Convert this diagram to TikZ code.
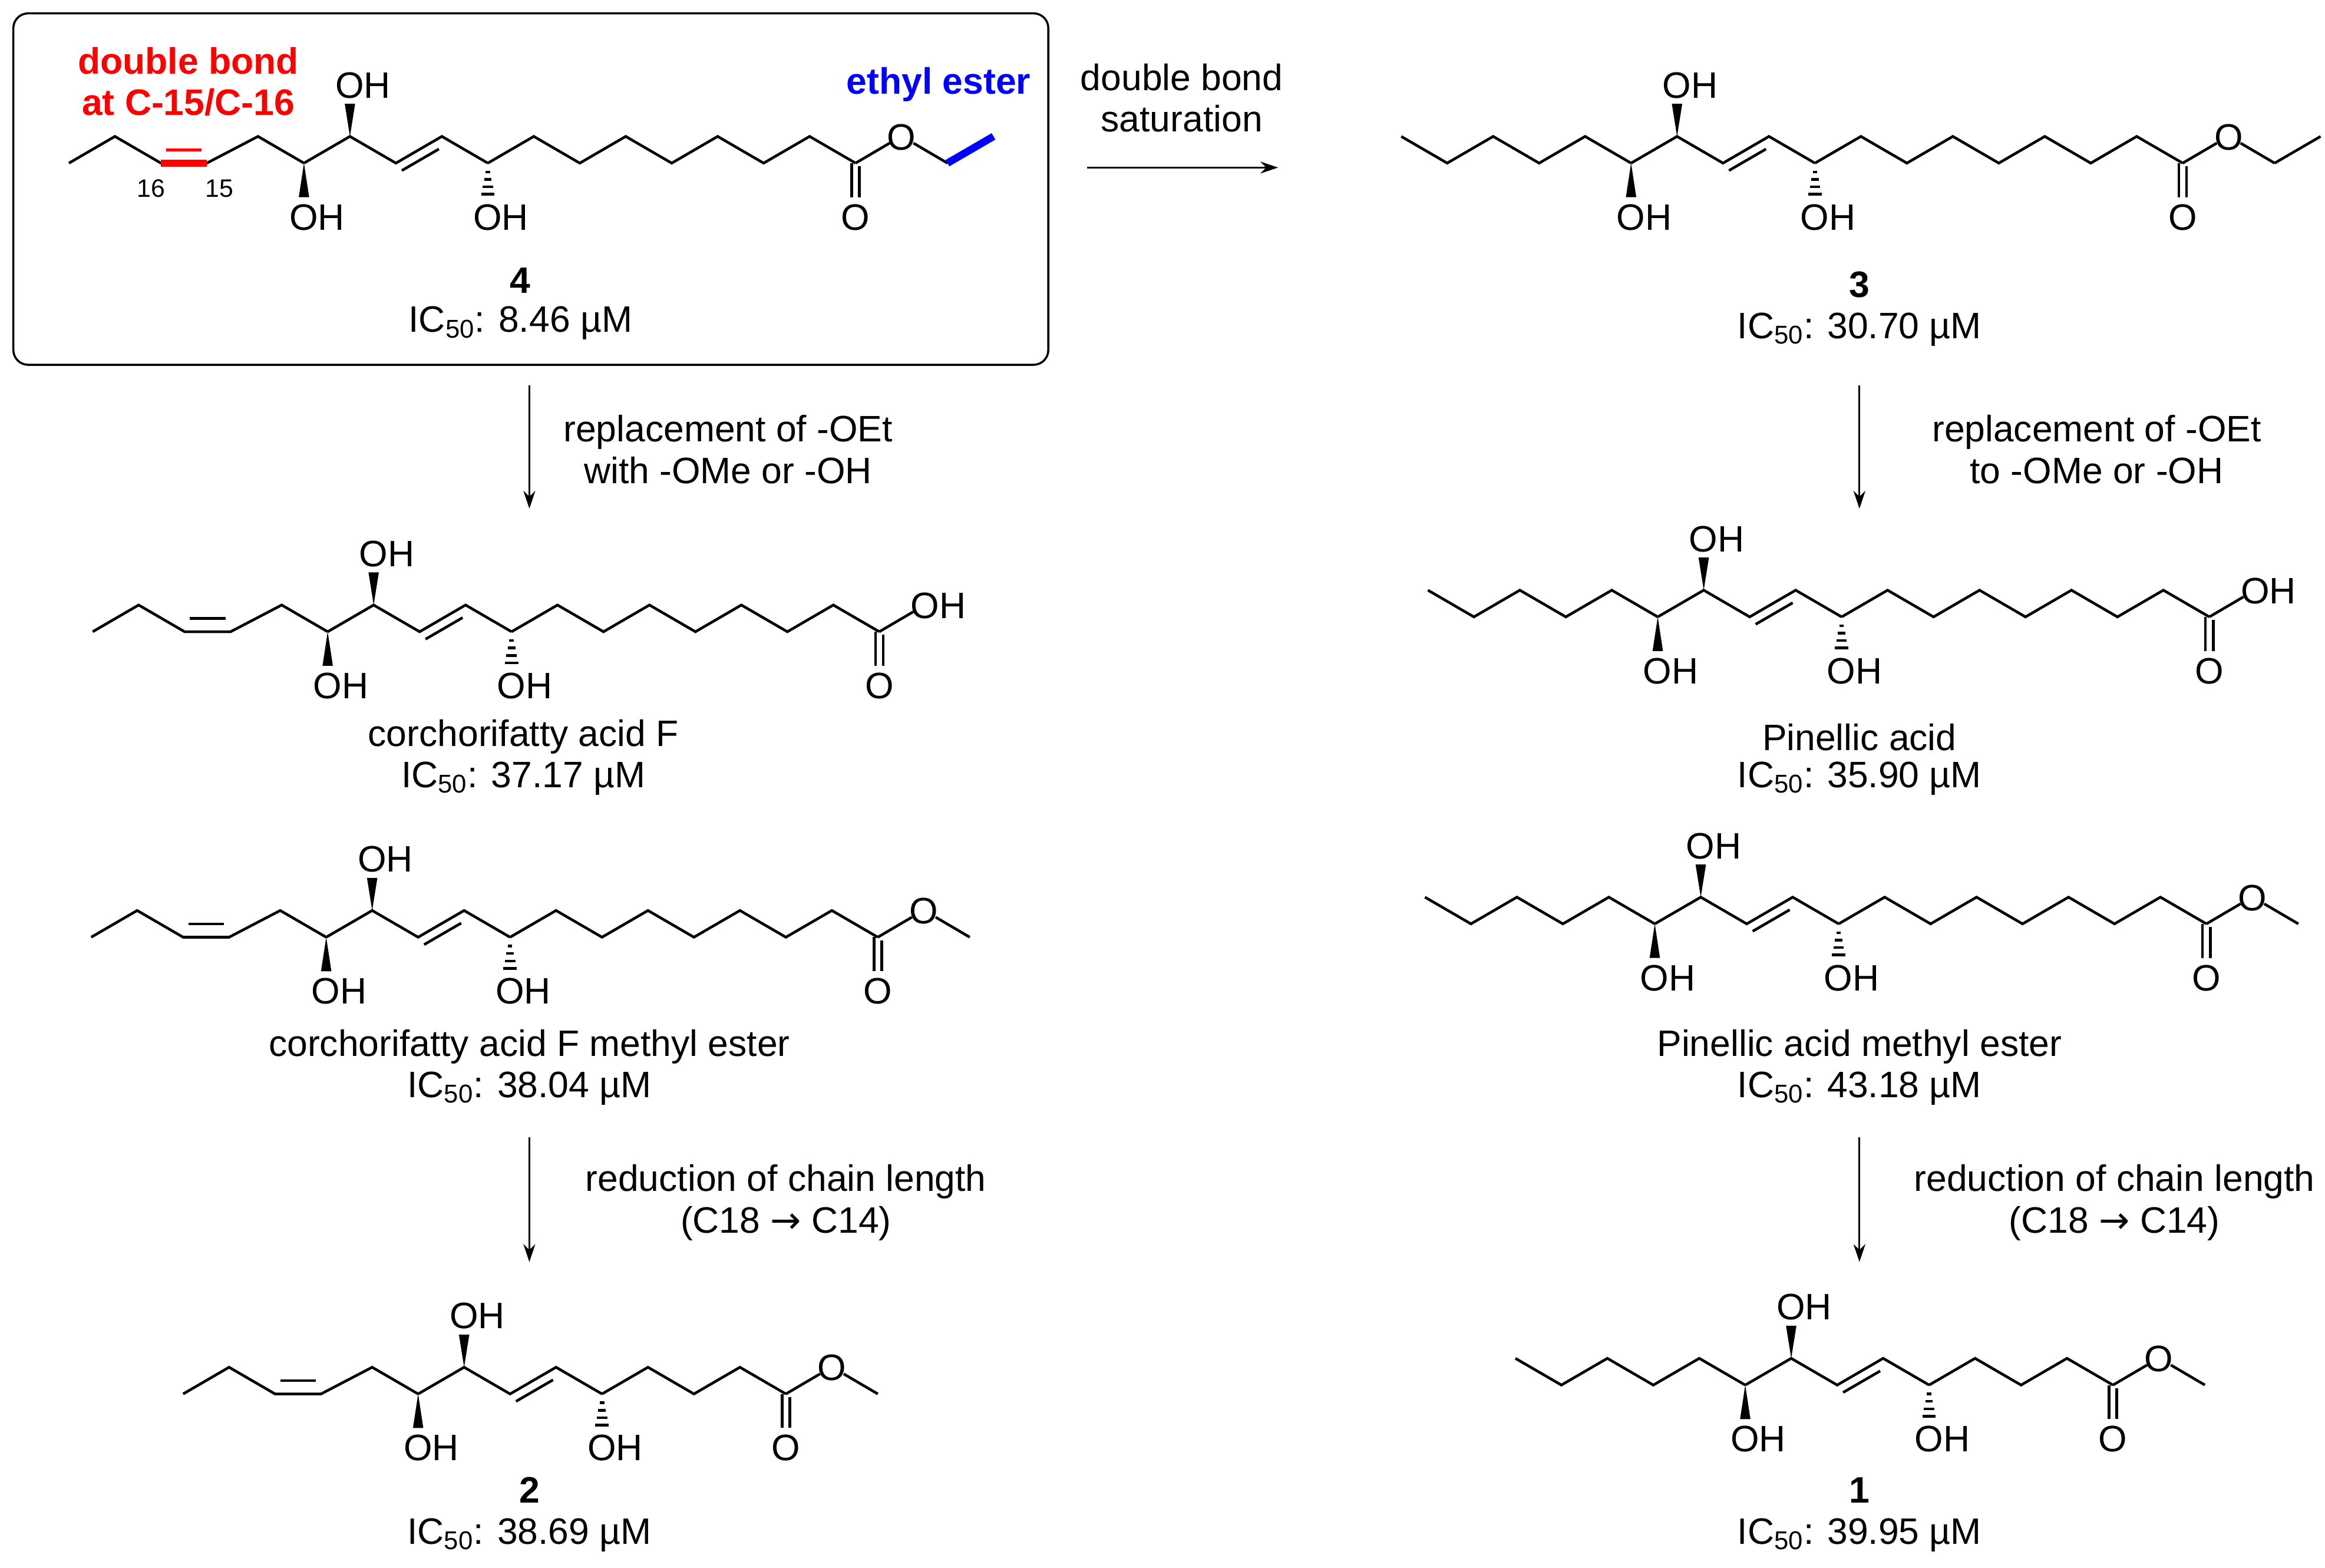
\documentclass[tikz,border=0pt]{standalone}
\usepackage{fontspec}
\usetikzlibrary{arrows.meta}
\setmainfont{Liberation Sans}
\newfontfamily\dvs{DejaVu Sans}
\tikzset{
  bond/.style={line width=1.8pt,line cap=butt,line join=miter},
  txt/.style={inner sep=0pt,font=\fontsize{24.8}{28}\selectfont,align=center},
  atom/.style={inner sep=0pt,font=\fontsize{24.8}{28}\selectfont},
  arr/.style={line width=1.3pt,-{Stealth[length=12pt,width=8pt]}},
}
\newcommand\ICv[1]{IC\textsubscript{50}: #1 µM}
\newcommand\Mol[5]{%
\begin{scope}[shift={(#1,#2)}]
 \ifnum#3=1
   \draw[bond] (50,92)--(81,110)--(112,92)--(143,110)--(174,92)--(205,110);
 \else
   \draw[bond] (46.5,110)--(77.5,92)--(108.5,110)--(139.5,110)--(174,92)--(205,110);
   \draw[bond] (112,101)--(136,101);
 \fi
 \draw[bond] (205,110)--(236,92)--(267,110)--(298,92)--(329,110);
 \draw[bond] (271,115)--(296,100.5);
 \fill (236,92)--(239.5,70)--(232.5,70)--cycle;
 \fill (205,110)--(208.5,133)--(201.5,133)--cycle;
 \foreach \yy/\ww in {116/1.5,121/2.5,126/3.5,131/4.5}{\draw[line width=1.8pt] (329-\ww,\yy)--(329+\ww,\yy);}
 \node[atom,anchor=base west] at (236-10,66) {OH};
 \node[atom,anchor=base west] at (205-10,155) {OH};
 \node[atom,anchor=base west] at (329-10,155) {OH};
 \pgfmathsetmacro\xc{329+31*(#4-9)}
 \draw[bond] (329,110) \foreach \i in {10,...,#4}{ -- ({329+31*(\i-9)},{92+18*mod(\i,2)}) };
 \draw[bond] (\xc-2.6,110)--(\xc-2.6,133) (\xc+2.6,112)--(\xc+2.6,133);
 \node[atom,anchor=base] at (\xc,155) {O};
 \ifnum#5=0
   \draw[bond] (\xc,110)--(\xc+23,96.5);
   \node[atom,anchor=base west] at (\xc+31-10,101) {OH};
 \else
   \draw[bond] (\xc,110)--(\xc+23,96.5);
   \node[atom,anchor=base] at (\xc+31,101) {O};
   \draw[bond] (\xc+39,96.5)--(\xc+62,110);
   \ifnum#5=2
     \draw[bond] (\xc+62,110)--(\xc+93,92);
   \fi
 \fi
\end{scope}}
\begin{document}
\begin{tikzpicture}[x=1pt,y=-1pt]
\useasboundingbox (0,0) rectangle (1568,1057);
\draw[line width=1.4pt,rounded corners=10pt] (9,9) rectangle (707,246);
\Mol{0}{0}{0}{17}{2}
\draw[red,line width=5pt] (108.5,110)--(139.5,110);
\draw[red,line width=1.9pt] (112,101)--(136,101);
\draw[blue,line width=5pt] (639,110)--(670,92);
\node[inner sep=0pt,font=\fontsize{17}{18}\selectfont] at (102,127) {16};
\node[inner sep=0pt,font=\fontsize{17}{18}\selectfont] at (148,127) {15};
\node[txt,red,font=\bfseries\fontsize{24.8}{28}\selectfont] at (127,55) {double bond\\at C-15/C-16};
\node[txt,blue,font=\bfseries\fontsize{24.8}{28}\selectfont] at (633,57) {ethyl ester};
\node[txt,font=\bfseries\fontsize{24.8}{28}\selectfont] at (351,189) {4};
\node[txt] at (351,218) {\ICv{8.46}};

\Mol{895}{0}{1}{17}{2}
\node[txt,font=\bfseries\fontsize{24.8}{28}\selectfont] at (1254,192) {3};
\node[txt] at (1254,222) {\ICv{30.70}};

\Mol{16}{316}{0}{17}{0}
\node[txt] at (353,497) {corchorifatty acid F};
\node[txt] at (353,525) {\ICv{37.17}};

\Mol{15}{522}{0}{17}{1}
\node[txt] at (357,706) {corchorifatty acid F methyl ester};
\node[txt] at (357,734) {\ICv{38.04}};

\Mol{77}{830}{0}{13}{1}
\node[txt,font=\bfseries\fontsize{24.8}{28}\selectfont] at (357,1005) {2};
\node[txt] at (357,1035) {\ICv{38.69}};

\Mol{913}{306}{1}{17}{0}
\node[txt] at (1254,497) {Pinellic acid};
\node[txt] at (1254,525) {\ICv{35.90}};

\Mol{911}{513}{1}{17}{1}
\node[txt] at (1254,706) {Pinellic acid methyl ester};
\node[txt] at (1254,734) {\ICv{43.18}};

\Mol{972}{824}{1}{13}{1}
\node[txt,font=\bfseries\fontsize{24.8}{28}\selectfont] at (1254,1005) {1};
\node[txt] at (1254,1035) {\ICv{39.95}};

\coordinate (h1) at (733,113); \coordinate (h2) at (862,113);
\draw[arr] (h1)--(h2);
\node[txt] at (797,66) {double bond\\saturation};
\coordinate (l1) at (357,260); \coordinate (l2) at (357,343);
\draw[arr] (l1)--(l2);
\node[txt] at (491,303) {replacement of -OEt\\with -OMe or -OH};
\coordinate (r1) at (1254,260); \coordinate (r2) at (1254,343);
\draw[arr] (r1)--(r2);
\node[txt] at (1414,303) {replacement of -OEt\\to -OMe or -OH};
\coordinate (l3) at (357,767); \coordinate (l4) at (357,851);
\draw[arr] (l3)--(l4);
\node[txt] at (530,811) {reduction of chain length\\(C18 {\dvs →} C14)};
\coordinate (r3) at (1254,767); \coordinate (r4) at (1254,851);
\draw[arr] (r3)--(r4);
\node[txt] at (1426,811) {reduction of chain length\\(C18 {\dvs →} C14)};
\end{tikzpicture}
\end{document}
